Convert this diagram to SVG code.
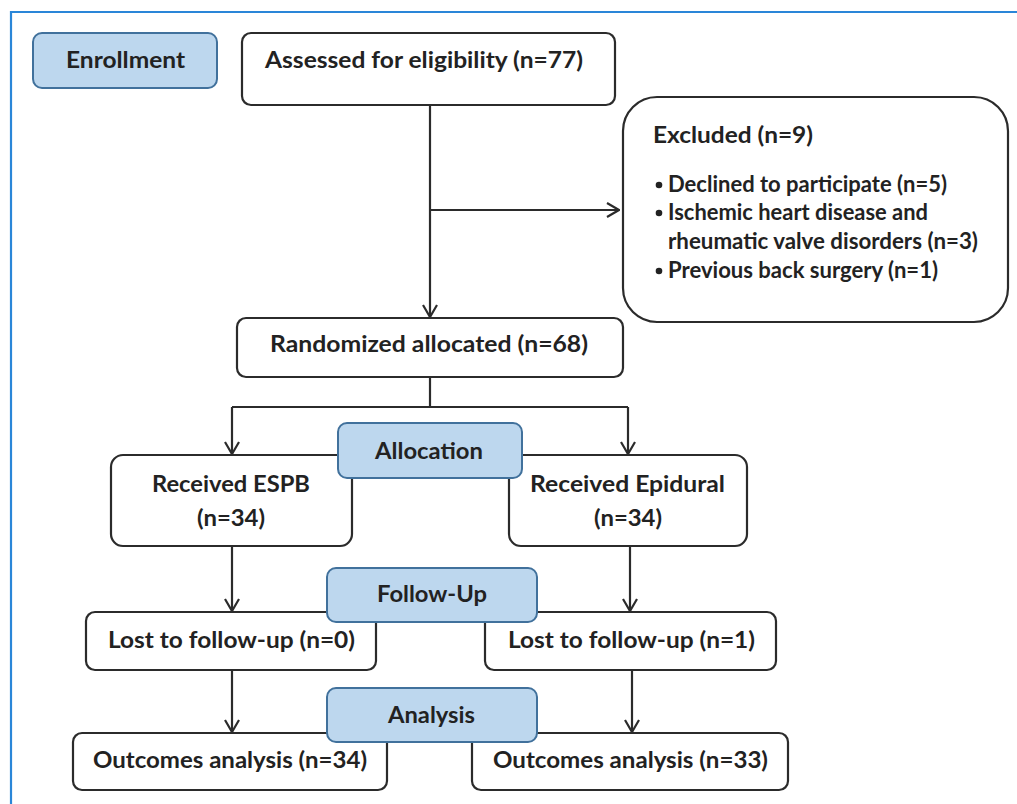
<svg xmlns="http://www.w3.org/2000/svg" width="1017" height="804" viewBox="0 0 1017 804">
<defs>
<style>
.box{fill:#fff;stroke:#2b2b2b;stroke-width:2.2}
.lab{fill:#bdd7ee;stroke:#41719c;stroke-width:2}
.t{font-family:Lato,"Open Sans","Liberation Sans",sans-serif;font-weight:700;font-size:23px;fill:#222}
.s{font-size:22px}
.c{text-anchor:middle}
.ln{fill:none;stroke:#2b2b2b;stroke-width:2.2}
.b{fill:#222}
</style>
<marker id="arr" viewBox="0 0 14 16" refX="13" refY="8" markerWidth="14" markerHeight="16" markerUnits="userSpaceOnUse" orient="auto">
<path d="M1,1 L13,8 L1,15" fill="none" stroke="#2b2b2b" stroke-width="2.2"/>
</marker>
</defs>
<rect width="1017" height="804" fill="#fff"/>
<g id="frame">
<path d="M11,804 L11,12 L1017,12" fill="none" stroke="#2a86d8" stroke-width="2.2"/>
</g>
<g id="connectors">
<path class="ln" d="M430,105 L430,317" marker-end="url(#arr)"/>
<path class="ln" d="M430,210 L619,210" marker-end="url(#arr)"/>
<path class="ln" d="M430,377 L430,407"/>
<path class="ln" d="M232,407 L628,407"/>
<path class="ln" d="M232,407 L232,454" marker-end="url(#arr)"/>
<path class="ln" d="M628,407 L628,454" marker-end="url(#arr)"/>
<path class="ln" d="M232,546 L232,611" marker-end="url(#arr)"/>
<path class="ln" d="M630,546 L630,611" marker-end="url(#arr)"/>
<path class="ln" d="M232,670 L232,732" marker-end="url(#arr)"/>
<path class="ln" d="M632,670 L632,732" marker-end="url(#arr)"/>
</g>
<g id="enrollment">
<rect class="lab" x="33" y="33" width="184" height="55" rx="9"/>
<text class="t c" x="125.5" y="68" textLength="119" lengthAdjust="spacingAndGlyphs">Enrollment</text>
</g>
<g id="assessed">
<rect class="box" x="242" y="33" width="373" height="72" rx="9"/>
<text class="t" x="265" y="68" textLength="318" lengthAdjust="spacingAndGlyphs">Assessed for eligibility (n=77)</text>
</g>
<g id="excluded">
<rect class="box" x="623" y="97" width="385" height="225" rx="34"/>
<text class="t" x="653" y="143" textLength="160" lengthAdjust="spacingAndGlyphs">Excluded (n=9)</text>
<circle class="b" cx="659" cy="185" r="3.3"/>
<text class="t s" x="668" y="192" textLength="279" lengthAdjust="spacingAndGlyphs">Declined to participate (n=5)</text>
<circle class="b" cx="659" cy="213" r="3.3"/>
<text class="t s" x="668" y="220" textLength="260" lengthAdjust="spacingAndGlyphs">Ischemic heart disease and</text>
<text class="t s" x="668" y="249" textLength="310" lengthAdjust="spacingAndGlyphs">rheumatic valve disorders (n=3)</text>
<circle class="b" cx="659" cy="271" r="3.3"/>
<text class="t s" x="668" y="278" textLength="270" lengthAdjust="spacingAndGlyphs">Previous back surgery (n=1)</text>
</g>
<g id="randomized">
<rect class="box" x="237" y="318" width="386" height="59" rx="9"/>
<text class="t c" x="429" y="352" textLength="318" lengthAdjust="spacingAndGlyphs">Randomized allocated (n=68)</text>
</g>
<g id="espb">
<rect class="box" x="111" y="455" width="241" height="91" rx="12"/>
<text class="t c" x="231" y="492" textLength="158" lengthAdjust="spacingAndGlyphs">Received ESPB</text>
<text class="t c" x="231" y="526" textLength="68" lengthAdjust="spacingAndGlyphs">(n=34)</text>
</g>
<g id="epidural">
<rect class="box" x="509" y="455" width="238" height="91" rx="12"/>
<text class="t c" x="627.5" y="492" textLength="195" lengthAdjust="spacingAndGlyphs">Received Epidural</text>
<text class="t c" x="628" y="526" textLength="68" lengthAdjust="spacingAndGlyphs">(n=34)</text>
</g>
<g id="allocation">
<rect class="lab" x="338" y="423" width="184" height="55" rx="9"/>
<text class="t c" x="429" y="459" textLength="108" lengthAdjust="spacingAndGlyphs">Allocation</text>
</g>
<g id="lost-left">
<rect class="box" x="86" y="612" width="290" height="58" rx="9"/>
<text class="t c" x="231.5" y="648" textLength="247" lengthAdjust="spacingAndGlyphs">Lost to follow-up (n=0)</text>
</g>
<g id="lost-right">
<rect class="box" x="485" y="612" width="291" height="58" rx="9"/>
<text class="t c" x="631.5" y="648" textLength="247" lengthAdjust="spacingAndGlyphs">Lost to follow-up (n=1)</text>
</g>
<g id="followup">
<rect class="lab" x="327" y="568" width="210" height="54" rx="9"/>
<text class="t c" x="432" y="602" textLength="110" lengthAdjust="spacingAndGlyphs">Follow-Up</text>
</g>
<g id="outcomes-left">
<rect class="box" x="73" y="733" width="314" height="57" rx="9"/>
<text class="t c" x="230" y="768" textLength="274" lengthAdjust="spacingAndGlyphs">Outcomes analysis (n=34)</text>
</g>
<g id="outcomes-right">
<rect class="box" x="472" y="733" width="316" height="57" rx="9"/>
<text class="t c" x="630.5" y="768" textLength="275" lengthAdjust="spacingAndGlyphs">Outcomes analysis (n=33)</text>
</g>
<g id="analysis">
<rect class="lab" x="327" y="688" width="210" height="54" rx="9"/>
<text class="t c" x="431.5" y="723" textLength="87" lengthAdjust="spacingAndGlyphs">Analysis</text>
</g>
</svg>
